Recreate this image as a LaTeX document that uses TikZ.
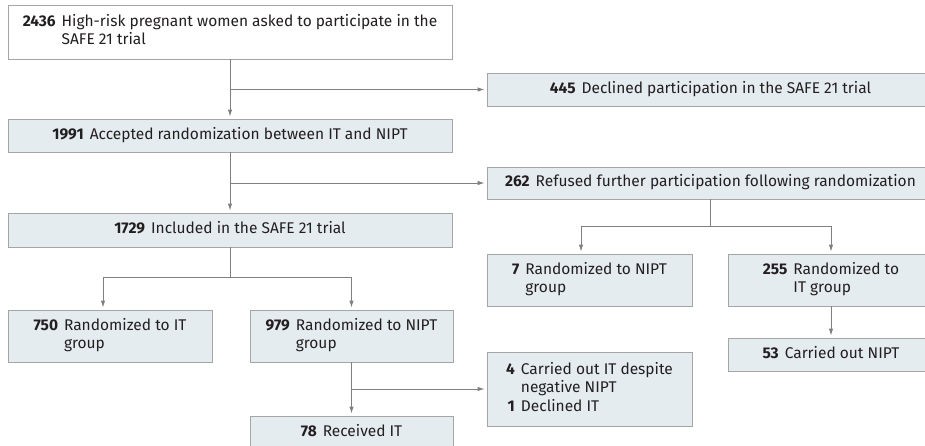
\documentclass[tikz,border=0pt]{standalone}
\usepackage{fontspec}
\setmainfont{Fira Sans}
\usetikzlibrary{arrows.meta}
\definecolor{boxfill}{RGB}{229,236,240}
\definecolor{boxline}{RGB}{165,165,165}
\definecolor{arrline}{RGB}{128,128,128}
\definecolor{txt}{RGB}{35,31,32}
\newcommand{\cnt}[1]{\textbf{#1}}
\newcommand{\entry}[2]{\begin{tabular}{@{}r@{\hspace{6pt}}l@{}}#1&#2\end{tabular}}
\begin{document}
\begin{tikzpicture}[x=1pt,y=-1pt,
  box/.style={draw=boxline,fill=boxfill,line width=0.8pt,inner sep=0pt,text=txt,
    font=\fontsize{15.5}{18.5}\selectfont},
  arr/.style={draw=arrline,line width=0.9pt,shorten >=2pt,-{Latex[length=7pt,width=4.5pt]}},
  link/.style={draw=arrline,line width=0.9pt}]
\useasboundingbox (0,0) rectangle (925,446);
% left column
\node[box,fill=white,minimum width=444,minimum height=54] (n2436) at (230,32)
  {\entry{\cnt{2436}}{High-risk pregnant women asked to participate in the\\ & SAFE 21 trial}};
\node[box,minimum width=444,minimum height=33] (n1991) at (230,135.5)
  {\entry{\cnt{1991}}{Accepted randomization between IT and NIPT}};
\node[box,minimum width=444,minimum height=34] (n1729) at (230,230)
  {\entry{\cnt{1729}}{Included in the SAFE 21 trial}};
\node[box,minimum width=204,minimum height=52] (n750) at (110,336)
  {\entry{\cnt{750}}{Randomized to IT\\ & group}};
\node[box,minimum width=203,minimum height=52] (n979) at (351.5,336)
  {\entry{\cnt{979}}{Randomized to NIPT\\ & group}};
\node[box,minimum width=203,minimum height=34] (n78) at (351.5,433)
  {\entry{\cnt{78}}{Received IT}};
% right column
\node[box,minimum width=447,minimum height=33] (n445) at (710.5,89.5)
  {\entry{\cnt{445}}{Declined participation in the SAFE 21 trial}};
\node[box,minimum width=447,minimum height=32] (n262) at (710.5,183)
  {\entry{\cnt{262}}{Refused further participation following randomization}};
\node[box,minimum width=205,minimum height=52] (n7) at (589.5,280)
  {\entry{\cnt{7}}{Randomized to NIPT\\ & group}};
\node[box,minimum width=206,minimum height=52] (n255) at (831,280)
  {\entry{\cnt{255}}{Randomized to\\ & IT group}};
\node[box,minimum width=206,minimum height=33] (n53) at (831,354.5)
  {\entry{\cnt{53}}{Carried out NIPT}};
\node[box,minimum width=205,minimum height=74] (n4) at (589.5,389)
  {\begin{tabular}{@{}r@{\hspace{6pt}}l@{}}\cnt{4}&Carried out IT despite\\ &negative NIPT\\ \cnt{1}&Declined IT\end{tabular}};
% connectors
\coordinate (j1729) at (230,277);
\coordinate (j262) at (710.5,226);
\draw[arr] (n2436) -- (n1991);
\draw[arr] (n2436.south |- n445) -- (n445);
\draw[arr] (n1991) -- (n1729);
\draw[arr] (n1991.south |- n262) -- (n262);
\draw[link] (n1729) -- (j1729);
\draw[arr] (j1729) -| ([xshift=-7pt]n750.north);
\draw[arr] (j1729) -| (n979.north);
\draw[arr] (n979) -- (n78);
\draw[arr] (n979.south |- n4) -- (n4);
\draw[link] (n262) -- (j262);
\draw[arr] (j262) -| ([xshift=-8.5pt]n7.north);
\draw[arr] (j262) -| (n255.north);
\draw[arr] (n255) -- (n53);
\end{tikzpicture}
\end{document}
